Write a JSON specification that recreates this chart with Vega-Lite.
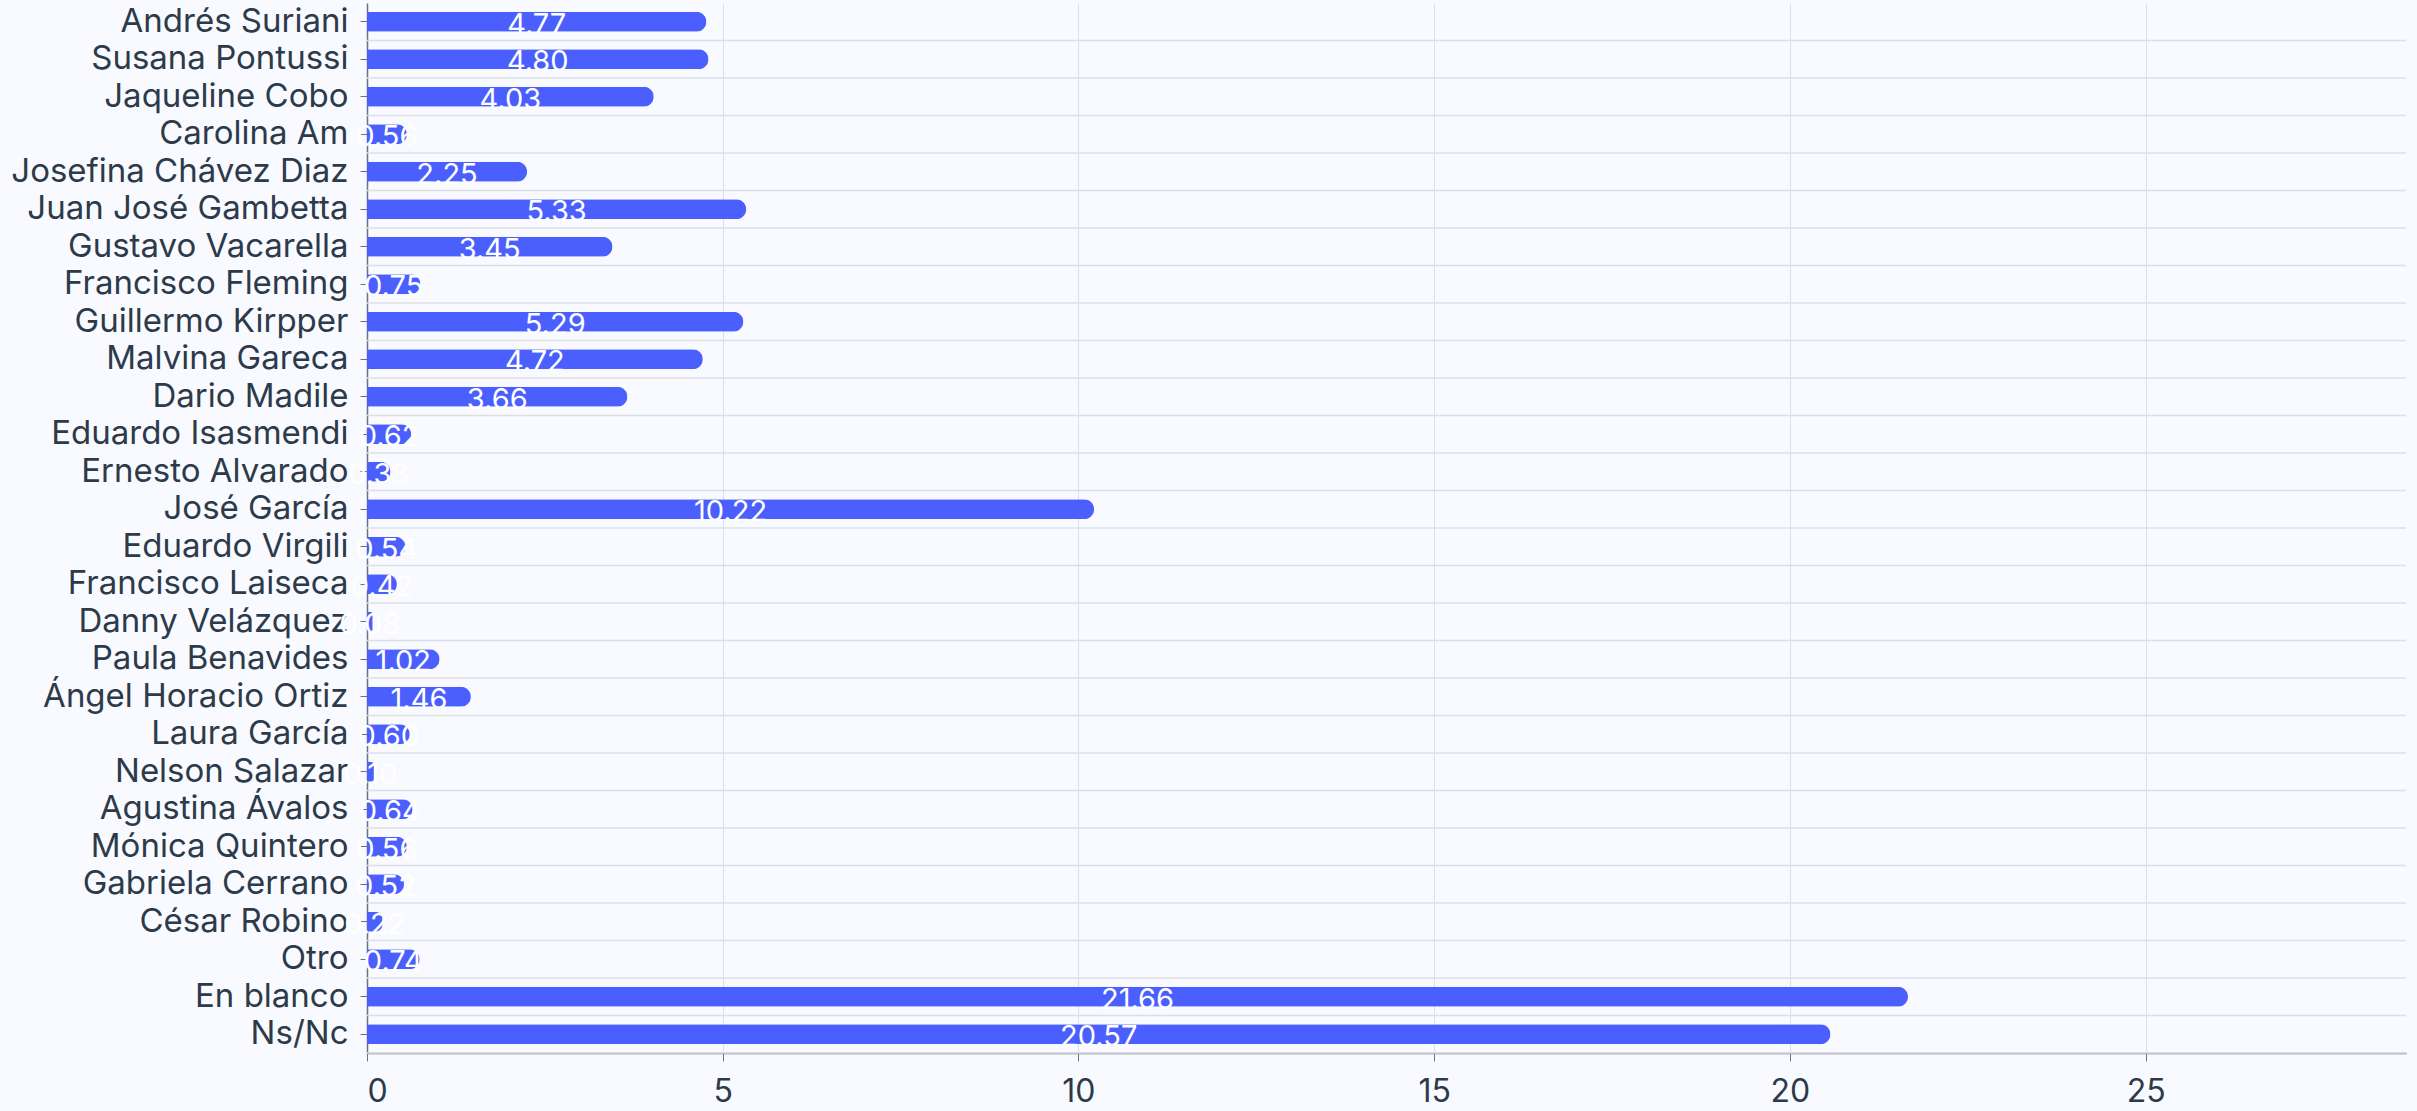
{
  "$schema": "https://vega.github.io/schema/vega-lite/v6.json",
  "autosize": "none",
  "width": 2039,
  "height": 1050,
  "padding": {"left": 367, "top": 3, "right": 11, "bottom": 58},
  "background": "#f8faff",
  "config": {
    "view": {"stroke": null},
    "font": "Inter"
  },
  "data": {
    "values": [
      {"name": "Andrés Suriani", "value": 4.77},
      {"name": "Susana Pontussi", "value": 4.80},
      {"name": "Jaqueline Cobo", "value": 4.03},
      {"name": "Carolina Am", "value": 0.56},
      {"name": "Josefina Chávez Diaz", "value": 2.25},
      {"name": "Juan José Gambetta", "value": 5.33},
      {"name": "Gustavo Vacarella", "value": 3.45},
      {"name": "Francisco Fleming", "value": 0.75},
      {"name": "Guillermo Kirpper", "value": 5.29},
      {"name": "Malvina Gareca", "value": 4.72},
      {"name": "Dario Madile", "value": 3.66},
      {"name": "Eduardo Isasmendi", "value": 0.62},
      {"name": "Ernesto Alvarado", "value": 0.33},
      {"name": "José García", "value": 10.22},
      {"name": "Eduardo Virgili", "value": 0.54},
      {"name": "Francisco Laiseca", "value": 0.42},
      {"name": "Danny Velázquez", "value": 0.08},
      {"name": "Paula Benavides", "value": 1.02},
      {"name": "Ángel Horacio Ortiz", "value": 1.46},
      {"name": "Laura García", "value": 0.60},
      {"name": "Nelson Salazar", "value": 0.10},
      {"name": "Agustina Ávalos", "value": 0.64},
      {"name": "Mónica Quintero", "value": 0.56},
      {"name": "Gabriela Cerrano", "value": 0.52},
      {"name": "César Robino", "value": 0.22},
      {"name": "Otro", "value": 0.74},
      {"name": "En blanco", "value": 21.66},
      {"name": "Ns/Nc", "value": 20.57}
    ]
  },
  "encoding": {
    "y": {
      "field": "name",
      "type": "nominal",
      "sort": null,
      "scale": {"paddingInner": 0, "paddingOuter": 0},
      "axis": {
        "title": null,
        "grid": false,
        "labelFont": "Inter",
        "labelFontSize": 33,
        "labelColor": "#2d3a4a",
        "labelPadding": 12,
        "labelLimit": 345,
        "tickSize": 7,
        "tickColor": "#6b7280",
        "domainColor": "#6b7280",
        "domainWidth": 1.5
      }
    }
  },
  "layer": [
    {
      "mark": {"type": "rule", "color": "#dcdfe6", "strokeWidth": 1.5},
      "encoding": {
        "y": {"field": "name", "type": "nominal", "sort": null, "bandPosition": 1}
      }
    },
    {
      "mark": {"type": "bar", "color": "#4b5fff", "height": 20, "cornerRadiusEnd": 10},
      "encoding": {
        "x": {
          "field": "value",
          "type": "quantitative",
          "scale": {"domain": [0, 28.66], "nice": false},
          "axis": {
            "title": null,
            "values": [0, 5, 10, 15, 20, 25],
            "grid": true,
            "gridColor": "#dcdfe6",
            "gridWidth": 1,
            "labelFont": "Inter",
            "labelFontSize": 32,
            "labelColor": "#2d3a4a",
            "labelPadding": 15,
            "tickSize": 8,
            "tickColor": "#6b7280",
            "domainColor": "#6b7280",
            "domainWidth": 1.5
          }
        }
      }
    },
    {
      "mark": {"type": "text", "color": "#ffffff", "fontSize": 29, "font": "Inter", "align": "center", "baseline": "middle", "dy": 3},
      "encoding": {
        "x": {
          "field": "value",
          "type": "quantitative",
          "scale": {"domain": [0, 57.32], "nice": false},
          "axis": null
        },
        "text": {"field": "value", "type": "quantitative", "format": ".2f"}
      }
    }
  ],
  "resolve": {"scale": {"x": "independent"}, "axis": {"x": "independent"}}
}
